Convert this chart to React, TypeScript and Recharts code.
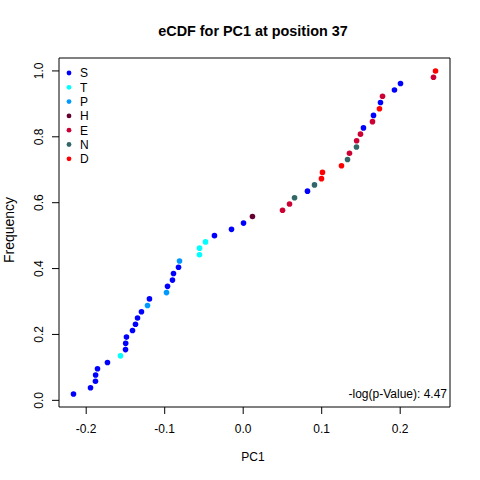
import React from 'react';
import { ScatterChart, Scatter, XAxis, YAxis, ReferenceArea } from 'recharts';

// PC1 values, sorted
const pc1 = [
  -0.2162, -0.1945, -0.1882, -0.1880, -0.1856, -0.1729, -0.1563, -0.1499,
  -0.1497, -0.1487, -0.1410, -0.1372, -0.1346, -0.1296, -0.1219, -0.1194,
  -0.0977, -0.0964, -0.0901, -0.0888, -0.0824, -0.0811, -0.0557, -0.0556,
  -0.0480, -0.0366, -0.0149, 0.0004, 0.0118, 0.0501, 0.0590, 0.0654,
  0.0819, 0.0908, 0.0997, 0.1010, 0.1252, 0.1329, 0.1354, 0.1443,
  0.1445, 0.1494, 0.1532, 0.1647, 0.1660, 0.1736, 0.1749, 0.1775,
  0.1927, 0.2004, 0.2424, 0.2450,
];

const frequency = [
  0.019, 0.038, 0.058, 0.077, 0.096, 0.115, 0.135, 0.154,
  0.173, 0.192, 0.212, 0.231, 0.25, 0.269, 0.288, 0.308,
  0.327, 0.346, 0.365, 0.385, 0.404, 0.423, 0.442, 0.462,
  0.481, 0.5, 0.519, 0.538, 0.558, 0.577, 0.596, 0.615,
  0.635, 0.654, 0.673, 0.692, 0.712, 0.731, 0.75, 0.769,
  0.788, 0.808, 0.827, 0.846, 0.865, 0.885, 0.904, 0.923,
  0.942, 0.962, 0.981, 1.0,
];

const residue = [
  'S', 'S', 'S', 'S', 'S', 'S', 'T', 'S',
  'S', 'S', 'S', 'S', 'S', 'S', 'P', 'S',
  'P', 'S', 'S', 'S', 'S', 'P', 'T', 'T',
  'T', 'S', 'S', 'S', 'H', 'E', 'E', 'N',
  'S', 'N', 'D', 'D', 'D', 'N', 'E', 'N',
  'E', 'E', 'S', 'E', 'S', 'D', 'S', 'E',
  'S', 'S', 'E', 'D',
];

const legendResidues = ['S', 'T', 'P', 'H', 'E', 'N', 'D'];
const residueColors: Record<string, string> = {
  S: '#0000FF',
  T: '#00FFFF',
  P: '#0099FF',
  H: '#660033',
  E: '#CC0033',
  N: '#336666',
  D: '#FF0000',
};

const xTicks = [-0.2, -0.1, 0, 0.1, 0.2];
const yTicks = [0, 0.2, 0.4, 0.6, 0.8, 1];
const pValueText = '-log(p-Value): 4.47';

const font = '"Liberation Sans", Arial, sans-serif';

// R style 4% padding around the data range
const pad = (lo: number, hi: number): [number, number] => {
  const d = (hi - lo) * 0.04;
  return [lo - d, hi + d];
};
const xDomain = pad(Math.min(...pc1), Math.max(...pc1));
const yDomain = pad(Math.min(...frequency), Math.max(...frequency));

const data = pc1.map((x, i) => ({ x, y: frequency[i], residue: residue[i] }));

function YTick({ x, y, payload }: any) {
  return (
    <text
      x={x}
      y={y}
      transform={`rotate(-90, ${x}, ${y})`}
      textAnchor="middle"
      fontSize={12}
      fontFamily={font}
      fill="#000"
    >
      {Number(payload.value).toFixed(1)}
    </text>
  );
}

function Dot(props: any) {
  const { cx, cy, payload } = props;
  return <circle cx={cx} cy={cy} r={2.8} fill={residueColors[payload.residue]} />;
}

export default function App() {
  return (
    <div style={{ position: 'absolute', left: 0, top: 0, width: 480, height: 480, background: '#fff' }}>
      <ScatterChart width={480} height={480} margin={{ top: 58, right: 30, bottom: 0, left: 0 }}>
        <XAxis
          type="number"
          dataKey="x"
          domain={xDomain}
          ticks={xTicks}
          allowDataOverflow
          axisLine={false}
          tickLine={{ stroke: '#000' }}
          tickSize={7}
          tickMargin={10}
          height={73}
          tick={{ fill: '#000', fontSize: 12, fontFamily: font }}
          tickFormatter={(v: number) => v.toFixed(1)}
        />
        <YAxis
          type="number"
          dataKey="y"
          domain={yDomain}
          ticks={yTicks}
          allowDataOverflow
          axisLine={false}
          tickLine={{ stroke: '#000' }}
          tickSize={7}
          tickMargin={9}
          width={59}
          tick={<YTick />}
        />
        <ReferenceArea
          x1={xDomain[0]}
          x2={xDomain[1]}
          y1={yDomain[0]}
          y2={yDomain[1]}
          fill="none"
          stroke="#000"
          strokeWidth={1}
          fillOpacity={0}
        />
        <Scatter data={data} shape={<Dot />} isAnimationActive={false} />
      </ScatterChart>
      <svg
        width={480}
        height={480}
        style={{ position: 'absolute', left: 0, top: 0, pointerEvents: 'none' }}
        fontFamily={font}
      >
        <text x={253} y={36} textAnchor="middle" fontSize={14.4} fontWeight="bold" fill="#000">
          eCDF for PC1 at position 37
        </text>
        <text x={253} y={461} textAnchor="middle" fontSize={12} fill="#000">
          PC1
        </text>
        <text x={13.5} y={230} transform="rotate(-90, 13.5, 230)" textAnchor="middle" fontSize={14} fill="#000">
          Frequency
        </text>
        <text x={447} y={398} textAnchor="end" fontSize={12} fill="#000">
          {pValueText}
        </text>
        {legendResidues.map((r, i) => (
          <g key={r}>
            <circle cx={69} cy={73 + i * 14.3} r={2.4} fill={residueColors[r]} />
            <text x={80} y={73 + i * 14.3 + 4.3} fontSize={12} fill="#000">
              {r}
            </text>
          </g>
        ))}
      </svg>
    </div>
  );
}
